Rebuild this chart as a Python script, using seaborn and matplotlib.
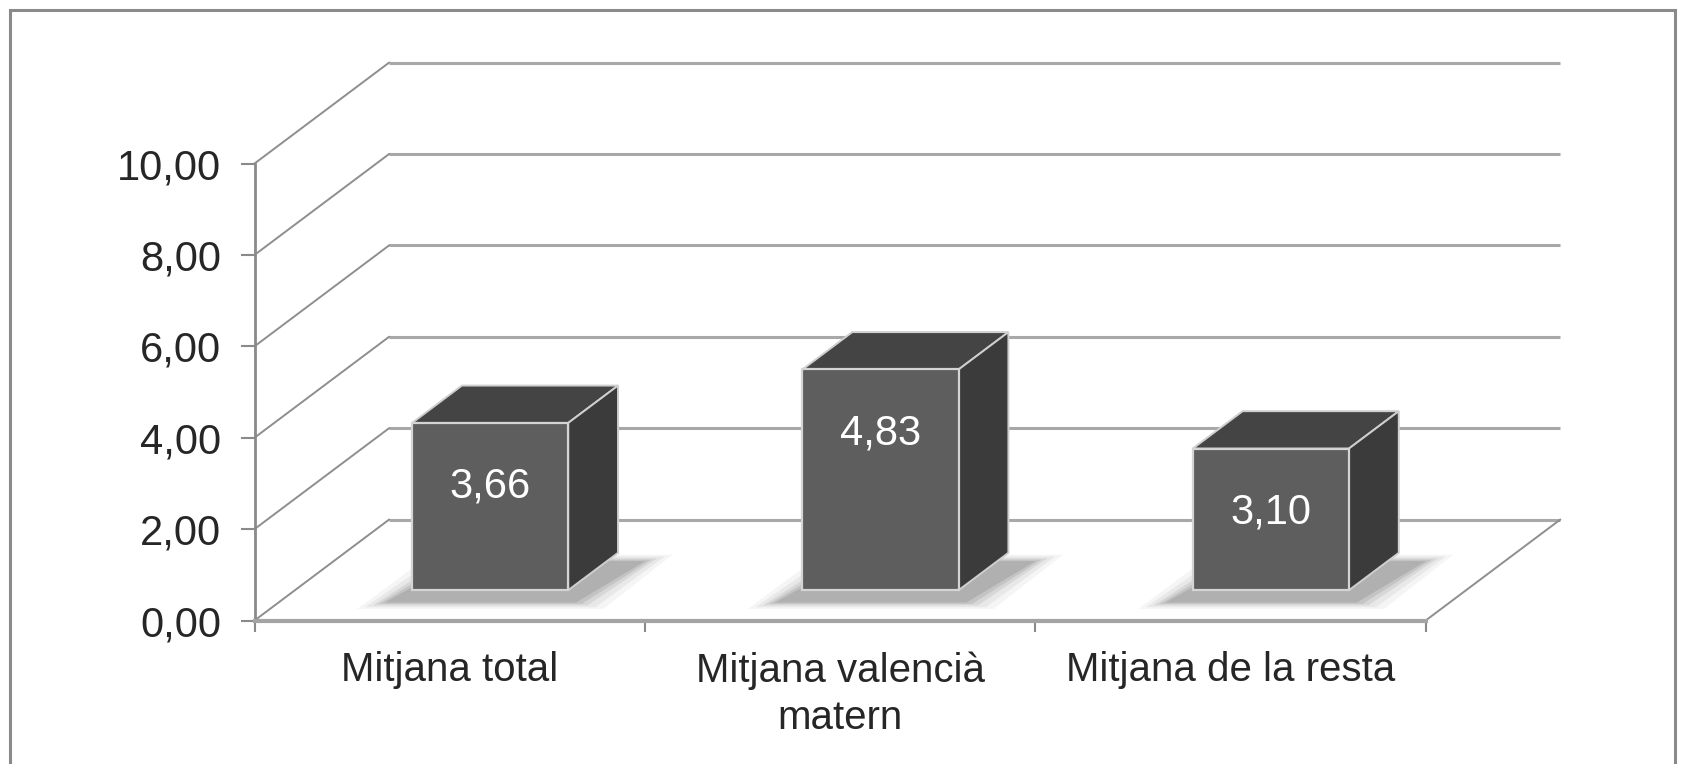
import matplotlib
matplotlib.use("Agg")
import matplotlib.pyplot as plt
import seaborn as sns
from matplotlib.patches import Polygon, Rectangle
from matplotlib.transforms import Affine2D
from matplotlib.ticker import FuncFormatter, FixedLocator

# data
categories = ["Mitjana total", "Mitjana valencià\nmatern", "Mitjana de la resta"]
values = [3.66, 4.83, 3.10]
y_ticks = [0, 2, 4, 6, 8, 10]

# fake 3d: depth of the box (in data units) and where the bars sit in it
DX, DY = 0.345, 2.21
F0, F1 = 0.30, 0.67

sns.set_style("white")
plt.rcParams["font.family"] = ["Liberation Sans", "DejaVu Sans"]

fig, ax = plt.subplots(figsize=(16.88, 7.64), dpi=100)
ax.set_position([0, 0, 1, 1])


def depth(f):
    return Affine2D().translate(f * DX, f * DY) + ax.transData


# front faces through seaborn
sns.barplot(x=categories, y=values, width=0.4, color="#5e5e5e", saturation=1,
            edgecolor="#d4d4d4", linewidth=1.6, ax=ax, zorder=5)

ax.set_xlim(-1.152, 3.172)
ax.set_ylim(-3.14, 13.578)

# back wall grid lines + left wall diagonals
ax.hlines(y_ticks, -0.5, 2.5, colors="#a8a8a8", linewidth=2.2, transform=depth(1.0), zorder=1)
for v in y_ticks:
    ax.plot([-0.5, -0.5 + DX], [v, v + DY], color="#8e8e8e", linewidth=1.4, zorder=1)
# floor right edge
ax.plot([2.5, 2.5 + DX], [0, DY], color="#8e8e8e", linewidth=1.4, zorder=1)

s = F1 - F0
for p, v in zip(ax.patches, values):
    p.set_transform(depth(F0))
    x0 = p.get_x()
    x1 = x0 + p.get_width()
    top = p.get_height()
    # soft shadow on the floor, darker towards the bar's foot
    for g, a in [(0.08, 0.05), (0.06, 0.07), (0.04, 0.10), (0.025, 0.13), (0.01, 0.16)]:
        shadow = [(x0 - 0.06 - g, -0.25 - 2 * g), (x1 + 0.01 + g, -0.25 - 2 * g),
                  (x1 + s * DX + 0.06 + g, s * DY - 0.2 + 2 * g),
                  (x0 + s * DX - g, s * DY - 0.2 + 2 * g)]
        ax.add_patch(Polygon(shadow, closed=True, facecolor="#4a4a4a", edgecolor="none",
                             alpha=a, transform=depth(F0), zorder=2))
    top_face = [(x0, top), (x1, top), (x1 + s * DX, top + s * DY), (x0 + s * DX, top + s * DY)]
    side_face = [(x1, 0), (x1 + s * DX, s * DY), (x1 + s * DX, top + s * DY), (x1, top)]
    ax.add_patch(Polygon(top_face, closed=True, facecolor="#444444", edgecolor="#cfcfcf",
                         linewidth=1.4, transform=depth(F0), zorder=4))
    ax.add_patch(Polygon(side_face, closed=True, facecolor="#3b3b3b", edgecolor="#cfcfcf",
                         linewidth=1.4, transform=depth(F0), zorder=4))
    ax.text(x0 + p.get_width() / 2, v - 1.4, f"{v:.2f}".replace(".", ","),
            color="white", fontsize=30, ha="center", va="center",
            transform=depth(F0), zorder=6)

# axes styling
for side in ["top", "right"]:
    ax.spines[side].set_visible(False)
ax.spines["left"].set_position(("data", -0.5))
ax.spines["left"].set_bounds(0, 10)
ax.spines["left"].set_color("#8a8a8a")
ax.spines["left"].set_linewidth(2)
ax.spines["bottom"].set_position(("data", 0))
ax.spines["bottom"].set_bounds(-0.5, 2.5)
ax.spines["bottom"].set_color("#a4a4a4")
ax.spines["bottom"].set_linewidth(3)

ax.set_yticks(y_ticks)
ax.yaxis.set_major_formatter(FuncFormatter(lambda v, _: f"{v:.2f}".replace(".", ",")))
ax.tick_params(axis="y", direction="out", length=10, width=1.5, color="#8a8a8a",
               pad=14, labelsize=30, left=True)
ax.set_xticks(range(len(categories)))
ax.set_xticklabels(categories)
ax.xaxis.set_minor_locator(FixedLocator([-0.5, 0.5, 1.5, 2.5]))
ax.tick_params(axis="x", which="major", length=0, pad=22, labelsize=29)
ax.tick_params(axis="x", which="minor", direction="out", length=8, width=1.5,
               color="#8a8a8a", bottom=True)
for lbl in ax.get_xticklabels():
    lbl.set_linespacing(1.3)
ax.set_xlabel("")
ax.set_ylabel("")

# outer chart border
W, H = 1688, 764
fig.patches.append(Rectangle((10 / W, -0.02), (1675 - 10) / W, 1 - 10 / H + 0.02,
                             transform=fig.transFigure, fill=False,
                             edgecolor="#8a8a8a", linewidth=2.2))

fig.savefig("out.png", dpi=100)
